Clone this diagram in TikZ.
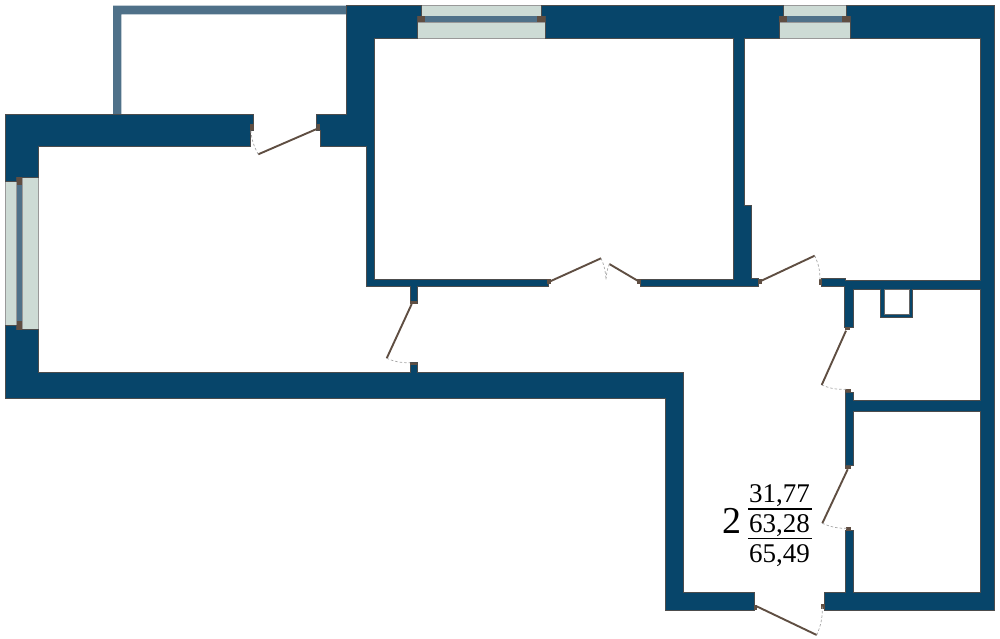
\documentclass[tikz,border=0pt]{standalone}
\usepackage{fontspec}
\setmainfont{Liberation Serif}
\definecolor{wallblue}{HTML}{07456A}
\definecolor{sashblue}{HTML}{4F7189}
\definecolor{glassgreen}{HTML}{CDDBD5}
\definecolor{jambbrown}{HTML}{5F4E42}
\tikzset{
    wall/.style={fill=wallblue,draw=black!70,line width=0.5pt},
    glass/.style={fill=glassgreen,draw=black!40,line width=0.7pt},
    sash/.style={fill=sashblue},
    jamb/.style={fill=jambbrown},
    leaf/.style={draw=jambbrown,line width=1.9pt},
    swing/.style={draw=black!35,line width=0.7pt,dash pattern=on 2.5pt off 2pt},
    areatext/.style={inner sep=0pt,font=\fontsize{27}{27}\selectfont}
}

\begin{document}
\begin{tikzpicture}[x=1pt,y=-1pt]
    \useasboundingbox (0,0) rectangle (1000,639);
    \fill[sashblue] (113,5.7) -- (347,5.7) -- (347,14.3) -- (121.3,14.3) -- (121.3,115) -- (113,115) -- cycle;
    \draw[glass] (5.7,181) rectangle (16.7,325);
    \draw[glass] (22,177) rectangle (38,329);
    \draw[glass] (421,5.7) rectangle (541.7,16.7);
    \draw[glass] (417.7,22) rectangle (545.3,38.3);
    \draw[glass] (783.3,5.7) rectangle (846,16.7);
    \draw[glass] (779.3,22) rectangle (850,38.3);
    \draw[wall] (5.7,114.5) -- (253.5,114.5) -- (253.5,130) -- (250,130) -- (250,146) -- (38,146) -- (38,177) -- (16.7,177) -- (16.7,181) -- (5.7,181) -- cycle;
    \draw[wall] (5.7,325) -- (16.7,325) -- (16.7,329) -- (38,329) -- (38,372) -- (410,372) -- (410,362.7) -- (417,362.7) -- (417,372) -- (683.3,372) -- (683.3,592.3) -- (754,592.3) -- (754,610) -- (665.7,610) -- (665.7,398) -- (5.7,398) -- cycle;
    \draw[wall] (316.7,114.5) -- (346.7,114.5) -- (346.7,5.7) -- (421,5.7) -- (421,16.7) -- (417.7,16.7) -- (417.7,38.3) -- (374,38.3) -- (374,279) -- (548,279) -- (548,286.5) -- (417.3,286.5) -- (417.3,303) -- (410,303) -- (410,286.5) -- (366,286.5) -- (366,146) -- (320,146) -- (320,130) -- (316.7,130) -- cycle;
    \draw[wall] (541.7,5.7) -- (783.3,5.7) -- (783.3,16.7) -- (779.3,16.7) -- (779.3,38.3) -- (744,38.3) -- (744,205) -- (751.3,205) -- (751.3,278.5) -- (758,278.5) -- (758,286.5) -- (640,286.5) -- (640,279) -- (733.3,279) -- (733.3,38.3) -- (545.3,38.3) -- (545.3,16.7) -- (541.7,16.7) -- cycle;
    \draw[wall] (846,5.7) -- (994.3,5.7) -- (994.3,610) -- (824.7,610) -- (824.7,592.3) -- (845.7,592.3) -- (845.7,530.7) -- (853.3,530.7) -- (853.3,592.3) -- (980,592.3) -- (980,411) -- (853.3,411) -- (853.3,465.7) -- (845,465.7) -- (845,392) -- (853.3,392) -- (853.3,400.3) -- (980,400.3) -- (980,289) -- (912.7,289) -- (912.7,317.7) -- (880.3,317.7) -- (880.3,289) -- (853.3,289) -- (853.3,327.3) -- (844.3,327.3) -- (844.3,286) -- (821.7,286) -- (821.7,278.3) -- (845,278.3) -- (845,280.3) -- (980,280.3) -- (980,38.3) -- (850,38.3) -- (850,16.7) -- (846,16.7) -- cycle;
    \draw[fill=white,draw=black!60,line width=0.5pt] (884.3,289) rectangle (909.3,314);
    \fill[sash] (16.7,180) rectangle (22.3,326);
    \fill[sash] (420,16.5) rectangle (542,22);
    \fill[sash] (782,16.5) rectangle (847,22);
    \foreach \xa/\ya/\xb/\yb in {16.7/177/22.3/185, 16.7/321/22.3/329.5, 417.7/16.5/425.3/22, 537.3/16.5/545.3/22, 779.3/16.5/787/22, 841.7/16.5/850/22, 250/124/253.5/130, 316.7/124/320/130, 547.3/279.3/551.3/284.3, 637.3/279.3/641/284.3, 410/300.5/417.3/304, 410/362.7/417/365, 758/279/761.5/284, 819/279.3/822.3/284.7, 844.7/327.3/850/330.3, 845/388.7/850.7/392, 845/465.7/851/469, 845.5/527.3/851/530.7, 754/604.7/757/610, 821.3/603.7/824.7/609}
        \fill[jamb] (\xa,\ya) rectangle (\xb,\yb);
    \foreach \xh/\yh/\xt/\yt/\xe/\ye/\b in {318.3/128.3/258.3/154.3/250.7/129.3/12, 549.3/281.7/601/258.3/606/279.3/10, 639.3/281.7/609.3/264/606/279.3/-8, 411.7/304/386.7/358.3/410/362.7/-12, 759.3/281.7/814.7/255.7/820/280/12, 846/330.7/821.7/385/846.7/389.3/-12, 847.7/469.3/822.3/523.3/848.3/528.3/-12, 756/606/816.7/635/822.3/606.7/-12}
    {
        \draw[leaf] (\xh,\yh) -- (\xt,\yt);
        \draw[swing] (\xt,\yt) to[bend left=\b] (\xe,\ye);
    }
    \node[inner sep=0pt,font=\fontsize{38}{38}\selectfont] (flatnumber) at (732,521) {2};
    \node[areatext] (livingarea) at (779.5,496) {31,77};
    \node[areatext] (floorarea) at (779.5,526) {63,28};
    \node[areatext] (totalarea) at (779.5,556) {65,49};
    \coordinate (ruleonestart) at (748.3,509);
    \coordinate (ruleoneend) at (811.7,509);
    \coordinate (ruletwostart) at (748.3,538.7);
    \coordinate (ruletwoend) at (811.7,538.7);
    \draw[line width=1.2pt] (ruleonestart) -- (ruleoneend);
    \draw[line width=1.2pt] (ruletwostart) -- (ruletwoend);
\end{tikzpicture}
\end{document}
